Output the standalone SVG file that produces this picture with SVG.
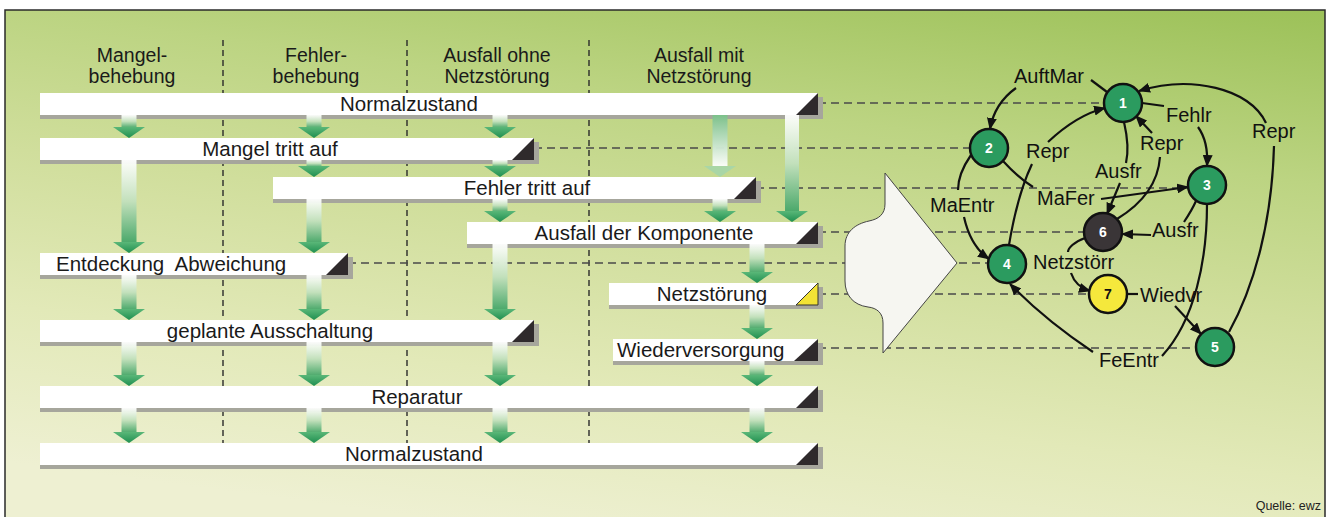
<svg xmlns="http://www.w3.org/2000/svg" width="1333" height="517" viewBox="0 0 1333 517">
<defs>
<linearGradient id="bg" x1="1" y1="0" x2="0.62" y2="1.1">
<stop offset="0" stop-color="#9cc158"/>
<stop offset="0.28" stop-color="#bcd482"/>
<stop offset="0.5" stop-color="#d0de9c"/>
<stop offset="0.75" stop-color="#e2e9b8"/>
<stop offset="1" stop-color="#eef0d2"/>
</linearGradient>
<linearGradient id="shaft" x1="0" y1="0" x2="0" y2="1">
<stop offset="0" stop-color="#ffffff" stop-opacity="0.95"/>
<stop offset="0.5" stop-color="#c2e0bb"/>
<stop offset="1" stop-color="#4aa86a"/>
</linearGradient>
<linearGradient id="shaftR" x1="0" y1="0" x2="0" y2="1">
<stop offset="0" stop-color="#7cc08a"/>
<stop offset="1" stop-color="#ffffff" stop-opacity="0.95"/>
</linearGradient>
<linearGradient id="head" x1="0" y1="0" x2="0" y2="1">
<stop offset="0" stop-color="#5ab778"/>
<stop offset="1" stop-color="#1f8f50"/>
</linearGradient>
<marker id="ah" markerUnits="userSpaceOnUse" markerWidth="12" markerHeight="10" refX="11" refY="5" orient="auto">
<path d="M0,0 L12,5 L0,10 Z" fill="#111"/>
</marker>
<style>
.sh{fill:#a6a69c}
.bar{fill:#ffffff}
.tri{fill:#2f2a2c}
.bt{font-family:"Liberation Sans",Arial,sans-serif;font-size:20.5px;fill:#1a1a1a}
.mid{text-anchor:middle}
.hd{font-family:"Liberation Sans",Arial,sans-serif;font-size:19.5px;fill:#1a1a1a;text-anchor:middle}
.vd{stroke:#2a2a2a;stroke-width:1.4;stroke-dasharray:6 4;fill:none}
.hdl{stroke:#4a4a4a;stroke-width:1.4;stroke-dasharray:8 5;fill:none}
.sf{fill:url(#shaft)}
.hf{fill:url(#head)}
.edge{stroke:#111;stroke-width:2.2;fill:none}
.arr{marker-end:url(#ah)}
.lbl{font-family:"Liberation Sans",Arial,sans-serif;font-size:20px;fill:#111}
.node{stroke:#111;stroke-width:2.5}
.gn{fill:#2b9b5f}
.nt{font-family:"Liberation Sans",Arial,sans-serif;font-size:14px;font-weight:bold;text-anchor:middle;fill:#ffffff}
</style>
</defs>

<rect x="0" y="0" width="1333" height="517" fill="#ffffff"/>
<rect x="5" y="10" width="1320" height="510" fill="url(#bg)" stroke="#2a2a2a" stroke-width="1.5"/>

<g id="headers">
<text class="hd" x="132" y="62">Mangel-</text>
<text class="hd" x="132" y="83">behebung</text>
<text class="hd" x="316" y="62">Fehler-</text>
<text class="hd" x="316" y="83">behebung</text>
<text class="hd" x="497" y="62">Ausfall ohne</text>
<text class="hd" x="497" y="83">Netzstörung</text>
<text class="hd" x="699" y="62">Ausfall mit</text>
<text class="hd" x="699" y="83">Netzstörung</text>
</g>

<g id="dividers">
<line class="vd" x1="223" y1="40" x2="223" y2="443"/>
<line class="vd" x1="407" y1="40" x2="407" y2="443"/>
<line class="vd" x1="589" y1="40" x2="589" y2="443"/>
</g>

<g id="state-links">
<line class="hdl" x1="818" y1="103" x2="1104" y2="103"/>
<line class="hdl" x1="534" y1="148" x2="970" y2="148"/>
<line class="hdl" x1="756" y1="188" x2="1188" y2="188"/>
<line class="hdl" x1="818" y1="232" x2="1084" y2="232"/>
<line class="hdl" x1="348" y1="263" x2="988" y2="263"/>
<line class="hdl" x1="818" y1="294" x2="1089" y2="294"/>
<line class="hdl" x1="818" y1="348" x2="1196" y2="348"/>
</g>

<g id="bar-normal1">
<rect class="sh" x="40" y="97" width="783" height="22"/>
<rect class="bar" x="40" y="93" width="778" height="22"/>
<polygon class="tri" points="796,115 818,93 818,115"/>
<text class="bt mid" x="409" y="111">Normalzustand</text>
</g>
<g id="bar-mangel">
<rect class="sh" x="40" y="142" width="499" height="22"/>
<rect class="bar" x="40" y="138" width="494" height="22"/>
<polygon class="tri" points="512,160 534,138 534,160"/>
<text class="bt mid" x="270" y="156">Mangel tritt auf</text>
</g>
<g id="bar-fehler">
<rect class="sh" x="273" y="181" width="488" height="22"/>
<rect class="bar" x="273" y="177" width="483" height="22"/>
<polygon class="tri" points="734,199 756,177 756,199"/>
<text class="bt mid" x="527" y="195">Fehler tritt auf</text>
</g>
<g id="bar-ausfall">
<rect class="sh" x="467" y="226" width="356" height="22"/>
<rect class="bar" x="467" y="222" width="351" height="22"/>
<polygon class="tri" points="796,244 818,222 818,244"/>
<text class="bt mid" x="644" y="240">Ausfall der Komponente</text>
</g>
<g id="bar-entdeckung">
<rect class="sh" x="40" y="257" width="313" height="22"/>
<rect class="bar" x="40" y="253" width="308" height="22"/>
<polygon class="tri" points="326,275 348,253 348,275"/>
<text class="bt" x="56" y="271" style="white-space:pre">Entdeckung  Abweichung</text>
</g>
<g id="bar-netzstoerung">
<rect class="sh" x="609" y="287" width="214" height="22"/>
<rect class="bar" x="609" y="283" width="209" height="22"/>
<polygon points="796,305 818,283 818,305" fill="#f2e235" stroke="#333" stroke-width="1"/>
<text class="bt mid" x="712" y="301">Netzstörung</text>
</g>
<g id="bar-geplant">
<rect class="sh" x="40" y="324" width="499" height="22"/>
<rect class="bar" x="40" y="320" width="494" height="22"/>
<polygon class="tri" points="512,342 534,320 534,342"/>
<text class="bt mid" x="270" y="338">geplante Ausschaltung</text>
</g>
<g id="bar-wiederversorgung">
<rect class="sh" x="613" y="343" width="210" height="22"/>
<rect class="bar" x="613" y="339" width="205" height="22"/>
<polygon class="tri" points="794,361 818,339 818,361"/>
<text class="bt" x="617" y="357">Wiederversorgung</text>
</g>
<g id="bar-reparatur">
<rect class="sh" x="40" y="390" width="783" height="22"/>
<rect class="bar" x="40" y="386" width="778" height="22"/>
<polygon class="tri" points="796,408 818,386 818,408"/>
<text class="bt mid" x="417" y="404">Reparatur</text>
</g>
<g id="bar-normal2">
<rect class="sh" x="40" y="447" width="783" height="22"/>
<rect class="bar" x="40" y="443" width="778" height="22"/>
<polygon class="tri" points="796,465 818,443 818,465"/>
<text class="bt mid" x="414" y="461">Normalzustand</text>
</g>

<g id="flow-arrows">
<rect class="sf" x="121.5" y="115" width="15" height="13"/><polygon class="hf" points="113,127 145,127 129,138"/>
<rect class="sf" x="121.5" y="160" width="15" height="83"/><polygon class="hf" points="113,242 145,242 129,253"/>
<rect class="sf" x="121.5" y="275" width="15" height="35"/><polygon class="hf" points="113,309 145,309 129,320"/>
<rect class="sf" x="121.5" y="342" width="15" height="34"/><polygon class="hf" points="113,375 145,375 129,386"/>
<rect class="sf" x="121.5" y="408" width="15" height="25"/><polygon class="hf" points="113,432 145,432 129,443"/>

<rect class="sf" x="306.5" y="115" width="15" height="13"/><polygon class="hf" points="298,127 330,127 314,138"/>
<rect class="sf" x="306.5" y="160" width="15" height="7"/><polygon class="hf" points="298,166 330,166 314,177"/>
<rect class="sf" x="306.5" y="199" width="15" height="44"/><polygon class="hf" points="298,242 330,242 314,253"/>
<rect class="sf" x="306.5" y="275" width="15" height="35"/><polygon class="hf" points="298,309 330,309 314,320"/>
<rect class="sf" x="306.5" y="342" width="15" height="34"/><polygon class="hf" points="298,375 330,375 314,386"/>
<rect class="sf" x="306.5" y="408" width="15" height="25"/><polygon class="hf" points="298,432 330,432 314,443"/>

<rect class="sf" x="492.5" y="115" width="15" height="13"/><polygon class="hf" points="484,127 516,127 500,138"/>
<rect class="sf" x="492.5" y="160" width="15" height="7"/><polygon class="hf" points="484,166 516,166 500,177"/>
<rect class="sf" x="492.5" y="199" width="15" height="13"/><polygon class="hf" points="484,211 516,211 500,222"/>
<rect class="sf" x="492.5" y="244" width="15" height="66"/><polygon class="hf" points="484,309 516,309 500,320"/>
<rect class="sf" x="492.5" y="342" width="15" height="34"/><polygon class="hf" points="484,375 516,375 500,386"/>
<rect class="sf" x="492.5" y="408" width="15" height="25"/><polygon class="hf" points="484,432 516,432 500,443"/>

<rect x="712.5" y="115" width="15" height="52" fill="url(#shaftR)"/><polygon points="704,166 736,166 720,177" fill="#a9d6a6"/>
<rect class="sf" x="712.5" y="199" width="15" height="13"/><polygon class="hf" points="704,211 736,211 720,222"/>
<rect class="sf" x="785" y="115" width="14" height="97"/><polygon class="hf" points="776,211 808,211 792,222"/>
<rect class="sf" x="749.5" y="244" width="15" height="29"/><polygon class="hf" points="741,272 773,272 757,283"/>
<rect class="sf" x="749.5" y="305" width="15" height="24"/><polygon class="hf" points="741,328 773,328 757,339"/>
<rect class="sf" x="749.5" y="361" width="15" height="15"/><polygon class="hf" points="741,375 773,375 757,386"/>
<rect class="sf" x="749.5" y="408" width="15" height="25"/><polygon class="hf" points="741,432 773,432 757,443"/>
</g>

<g id="brace">
<path d="M885,173 L957,263 L883,353 L883,323 C883,313 877,308 868,307 C853,305 845,295 845,281 L845,246 C845,232 855,224 869,221 C879,219 885,214 885,204 Z" fill="#f6f6f1" stroke="#444" stroke-width="1"/>
</g>

<g id="connectors">
<path class="edge" d="M1107,92 L1091,80"/>
<path class="edge arr" d="M1016,88 C1002,98 993,112 990,129"/>
<text class="lbl" x="1014" y="83">AuftMar</text>

<path class="edge" d="M1009,245 C1014,215 1022,185 1032,164"/>
<path class="edge arr" d="M1048,142 C1065,126 1085,113 1105,108"/>
<text class="lbl" x="1026" y="158">Repr</text>

<path class="edge" d="M971,155 C962,168 958,180 958,190"/>
<path class="edge arr" d="M964,217 C968,235 976,250 989,259"/>
<text class="lbl" x="930" y="212">MaEntr</text>

<path class="edge" d="M1003,161 C1013,172 1022,180 1033,187"/>
<path class="edge arr" d="M1101,199 L1188,187"/>
<text class="lbl" x="1037" y="205">MaFer</text>

<path class="edge" d="M1124,122 C1127,135 1129,150 1126,163"/>
<path class="edge arr" d="M1120,183 L1107,214"/>
<text class="lbl" x="1095" y="178">Ausfr</text>

<path class="edge" d="M1117,219 C1140,205 1158,185 1160,157"/>
<path class="edge arr" d="M1152,133 L1136,116"/>
<text class="lbl" x="1140" y="150">Repr</text>

<path class="edge" d="M1142,103 L1164,106"/>
<path class="edge arr" d="M1198,127 C1206,138 1208,150 1207,166"/>
<text class="lbl" x="1166" y="122">Fehlr</text>

<path class="edge" d="M1229,332 C1255,285 1272,220 1274,146"/>
<path class="edge arr" d="M1266,123 C1250,88 1190,75 1139,91"/>
<text class="lbl" x="1252" y="138">Repr</text>

<path class="edge" d="M1196,201 C1192,210 1188,216 1184,222"/>
<path class="edge arr" d="M1151,235 L1122,234"/>
<text class="lbl" x="1152" y="237">Ausfr</text>

<path class="edge" d="M1207,204 C1207,260 1195,320 1162,356"/>
<path class="edge arr" d="M1093,352 Q1045,320 1010,284"/>
<text class="lbl" x="1099" y="367">FeEntr</text>

<path class="edge" d="M1085,238 C1074,242 1068,248 1068,252"/>
<path class="edge arr" d="M1071,273 C1074,282 1080,288 1090,291"/>
<text class="lbl" x="1033" y="269">Netzstörr</text>

<path class="edge" d="M1127,294 L1138,294"/>
<path class="edge arr" d="M1175,306 L1201,334"/>
<text class="lbl" x="1140" y="302">Wiedvr</text>
</g>

<g id="node-1"><circle class="node gn" cx="1123" cy="103" r="19"/><text class="nt" x="1123" y="108">1</text></g>
<g id="node-2"><circle class="node gn" cx="989" cy="148" r="19"/><text class="nt" x="989" y="153">2</text></g>
<g id="node-3"><circle class="node gn" cx="1207" cy="185" r="19"/><text class="nt" x="1207" y="190">3</text></g>
<g id="node-4"><circle class="node gn" cx="1007" cy="264" r="19"/><text class="nt" x="1007" y="269">4</text></g>
<g id="node-5"><circle class="node gn" cx="1215" cy="347" r="19"/><text class="nt" x="1215" y="352">5</text></g>
<g id="node-6"><circle class="node" cx="1103" cy="232" r="19" fill="#3a3537"/><text class="nt" x="1103" y="237">6</text></g>
<g id="node-7"><circle class="node" cx="1108" cy="294" r="19" fill="#f5e83c"/><text class="nt" x="1108" y="299" style="fill:#111">7</text></g>

<text x="1321" y="510" font-family="Liberation Sans, Arial, sans-serif" font-size="12.5" fill="#222" text-anchor="end">Quelle: ewz</text>
</svg>
